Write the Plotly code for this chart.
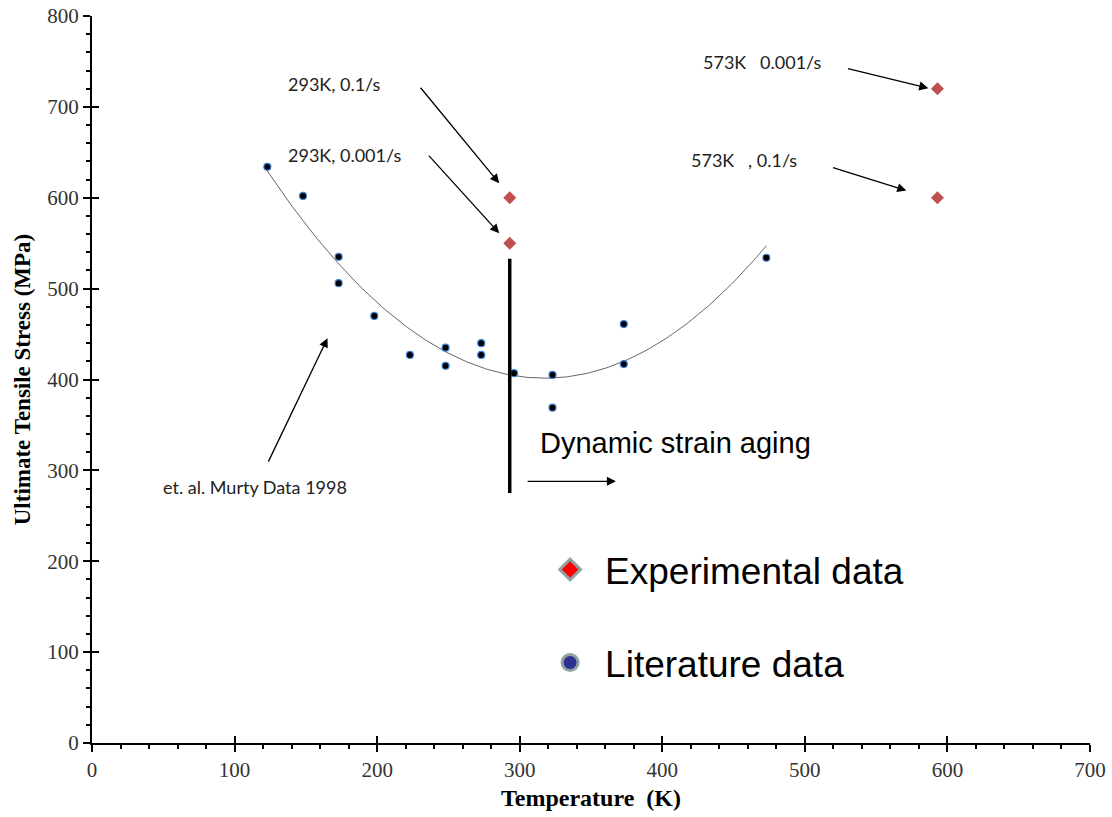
import numpy as np
import plotly.graph_objects as go

# Literature data (Murty et al. 1998)
lit_T = [123, 148, 173, 173, 198, 223, 248, 248, 273, 273, 296, 323, 323, 373, 373, 473]
lit_S = [634, 602, 535, 506, 470, 427, 435, 415, 440, 427, 407, 405, 369, 461, 417, 534]

# Experimental data
exp_T = [293, 293, 593, 593]
exp_S = [600, 550, 720, 600]

# Trendline (polynomial fit of literature data)
coef = np.polyfit(lit_T, lit_S, 2)
fit_T = np.linspace(min(lit_T), max(lit_T), 200)
fit_S = np.polyval(coef, fit_T)

fig = go.Figure()
fig.add_trace(go.Scatter(x=fit_T, y=fit_S, mode="lines",
                         line=dict(color="#666666", width=1), showlegend=False, hoverinfo="skip"))
fig.add_trace(go.Scatter(x=lit_T, y=lit_S, mode="markers", showlegend=False,
                         marker=dict(symbol="circle", size=7, color="black",
                                     line=dict(color="#3d7fd6", width=1.2))))
fig.add_trace(go.Scatter(x=exp_T, y=exp_S, mode="markers", showlegend=False,
                         marker=dict(symbol="diamond", size=10, color="#c0504d")))

# vertical DSA line
dsa_T = [293, 293]
dsa_S = [275, 533]
fig.add_trace(go.Scatter(x=dsa_T, y=dsa_S, mode="lines",
                         line=dict(color="black", width=3.5), showlegend=False, hoverinfo="skip"))

# empty traces so the overlay (inside-tick) axes get drawn
fig.add_trace(go.Scatter(x=[None], y=[None], xaxis="x2", yaxis="y", showlegend=False, hoverinfo="skip"))
fig.add_trace(go.Scatter(x=[None], y=[None], xaxis="x", yaxis="y2", showlegend=False, hoverinfo="skip"))

# Legend-style entries
fig.add_trace(go.Scatter(x=[None], y=[None], mode="markers", name="Experimental data",
                         marker=dict(symbol="diamond", size=16, color="#ff0000",
                                     line=dict(color="#8fa3a3", width=3)),
                         legend="legend"))
fig.add_trace(go.Scatter(x=[None], y=[None], mode="markers", name="Literature data",
                         marker=dict(symbol="circle", size=16, color="#2e3192",
                                     line=dict(color="#8fa3a3", width=3)),
                         legend="legend2"))

ann_font = dict(family="Lato, Open Sans, sans-serif", size=18, color="#222222")
labels = [
    ("293K, 0.1/s", 170, 725),
    ("293K, 0.001/s", 177, 647),
    ("573K   0.001/s", 470, 749),
    ("573K   , 0.1/s", 457, 641),
    ("et. al. Murty Data 1998", 114, 282),
]
for txt, x, y in labels:
    fig.add_annotation(x=x, y=y, text=txt, showarrow=False, font=ann_font)

arrows = [
    # (tail_x, tail_y, head_x, head_y)
    (229.6, 722.7, 285.6, 616),
    (235.3, 648, 285.6, 561),
    (529.2, 742.6, 586.6, 720.6),
    (518.7, 633.6, 571.2, 608),
    (123.2, 308, 165.2, 445.5),
    (304.5, 288, 367.5, 288),
]
for tx, ty, hx, hy in arrows:
    fig.add_annotation(x=hx, y=hy, ax=tx, ay=ty, xref="x", yref="y", axref="x", ayref="y",
                       text="", showarrow=True, arrowhead=2, arrowsize=1.4, arrowwidth=1.3,
                       arrowcolor="black", standoff=0, startstandoff=0)

fig.add_annotation(x=409.5, y=330, text="Dynamic strain aging", showarrow=False,
                   font=dict(family="Liberation Sans, Arial, sans-serif", size=29, color="black"))

tick_font = dict(family="Liberation Serif, Times New Roman, serif", size=21, color="#333333")
xtitle_font = dict(family="Liberation Serif, Times New Roman, serif", size=24, color="black")
ytitle_font = dict(family="Liberation Serif, Times New Roman, serif", size=23, color="black")
leg_font = dict(family="Liberation Sans, Arial, sans-serif", size=37, color="black")

fig.update_layout(
    width=1112, height=817,
    margin=dict(l=92, r=22, t=16, b=74),
    plot_bgcolor="white", paper_bgcolor="white",
    xaxis=dict(range=[0, 700], dtick=100, tick0=0, showgrid=False, zeroline=False,
               showline=True, linecolor="black", linewidth=2, automargin=False,
               ticks="outside", ticklen=7, tickwidth=1.5, tickcolor="black",
               tickfont=tick_font,
               minor=dict(dtick=20, ticks="outside", ticklen=4, tickcolor="black", tickwidth=1.5),
               title=dict(text="<b>Temperature  (K)</b>", font=xtitle_font, standoff=8)),
    yaxis=dict(range=[0, 800], dtick=100, tick0=0, showgrid=False, zeroline=False,
               showline=True, linecolor="black", linewidth=2, automargin=False,
               ticks="outside", ticklen=7, tickwidth=1.5, tickcolor="black",
               tickfont=tick_font,
               minor=dict(dtick=20, ticks="outside", ticklen=4, tickcolor="black", tickwidth=1.5),
               title=dict(text="<b>Ultimate Tensile Stress (MPa)</b>", font=ytitle_font, standoff=10)),
    xaxis2=dict(range=[0, 700], dtick=100, tick0=0, overlaying="x", anchor="y", side="bottom",
                showgrid=False, zeroline=False, showline=False, showticklabels=False,
                automargin=False, ticks="inside", ticklen=7, tickwidth=1.5, tickcolor="black"),
    yaxis2=dict(range=[0, 800], dtick=100, tick0=0, overlaying="y", anchor="x", side="left",
                showgrid=False, zeroline=False, showline=False, showticklabels=False,
                automargin=False, ticks="inside", ticklen=7, tickwidth=1.5, tickcolor="black"),
    legend=dict(x=0.444, y=0.238, xanchor="left", yanchor="middle", bgcolor="rgba(0,0,0,0)",
                font=leg_font, itemsizing="trace", itemwidth=60),
    legend2=dict(x=0.444, y=0.110, xanchor="left", yanchor="middle", bgcolor="rgba(0,0,0,0)",
                 font=leg_font, itemsizing="trace", itemwidth=60),
)

fig.write_html("out.html")
